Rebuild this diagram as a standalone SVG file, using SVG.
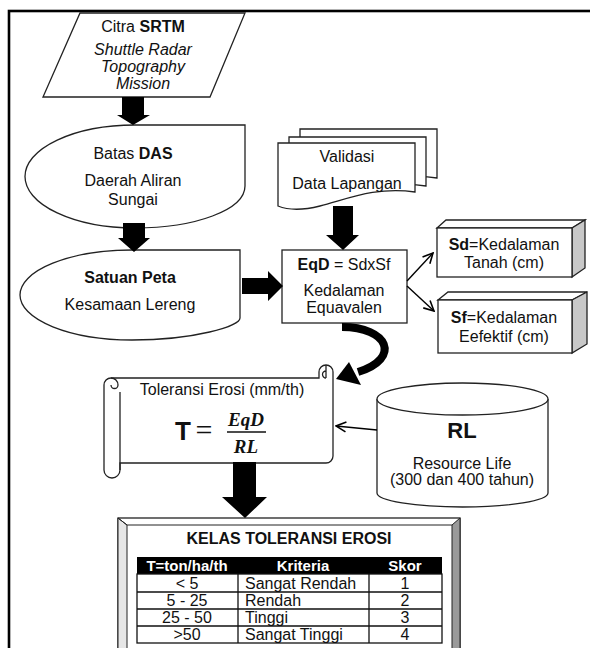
<svg xmlns="http://www.w3.org/2000/svg" width="590" height="648" viewBox="0 0 590 648">
<style>
text{font-family:"Liberation Sans",Arial,sans-serif;font-size:16px;fill:#111;text-anchor:middle}
.b{font-weight:bold}
.i{font-style:italic}
.sh{fill:#fff;stroke:#222;stroke-width:1.3}
.ln{fill:none;stroke:#222;stroke-width:1.3}
.blk{fill:#000}
.th{fill:#fff;font-weight:bold;font-size:15px}
.td{font-size:16px}
.l{text-anchor:start}
.math{font-family:"Liberation Serif","Times New Roman",serif;font-weight:bold;font-style:italic;font-size:19px}
</style>
<defs>
<marker id="open" viewBox="0 0 12 12" refX="11" refY="6" markerWidth="12" markerHeight="12" markerUnits="userSpaceOnUse" orient="auto">
<path d="M1,1 L11,6 L1,11" fill="none" stroke="#000" stroke-width="1.6"/>
</marker>
</defs>
<rect x="9" y="11" width="620" height="700" fill="#fff" stroke="#000" stroke-width="2.6"/>

<g id="citra">
<polygon class="sh" points="80,13 245,13 210,97 43,97"/>
<text x="143" y="32">Citra <tspan class="b">SRTM</tspan></text>
<text class="i" x="143" y="55">Shuttle Radar</text>
<text class="i" x="143" y="72">Topography</text>
<text class="i" x="143" y="89">Mission</text>
</g>

<g id="batas">
<path class="sh" d="M135,125 H245 V186 C245,210 195,228 135,228 A110,51.5 0 0 1 135,125 Z"/>
<text x="133" y="159">Batas <tspan class="b">DAS</tspan></text>
<text x="133" y="186">Daerah Aliran</text>
<text x="133" y="205">Sungai</text>
</g>

<g id="satuan">
<path class="sh" d="M132,250 H240 V318 C240,326 195,340 132,340 A112,45 0 0 1 132,250 Z"/>
<text class="b" x="130" y="283">Satuan Peta</text>
<text x="130" y="310">Kesamaan Lereng</text>
</g>

<g id="validasi">
<path class="sh" d="M300,129 H437 V178 C397,172 367,186 342,192 C322,197 310,196 300,192 Z"/>
<path class="sh" d="M289,137 H426 V186 C386,180 356,194 331,200 C311,205 299,204 289,200 Z"/>
<path class="sh" d="M278,143 H415 V192 C375,186 345,200 320,206 C300,211 288,210 278,206 Z"/>
<text x="347" y="162">Validasi</text>
<text x="347" y="189">Data Lapangan</text>
</g>

<g id="eqd">
<rect class="sh" x="282" y="250" width="125" height="73"/>
<text x="344" y="270"><tspan class="b">EqD</tspan> = SdxSf</text>
<text x="344" y="296">Kedalaman</text>
<text x="344" y="313">Equavalen</text>
</g>

<g id="sd">
<polygon class="sh" points="437,228 446,220 585,220 572,228"/>
<polygon class="sh" points="572,228 585,220 585,268 572,277" style="fill:#c8c8c8"/>
<rect class="sh" x="437" y="228" width="135" height="49"/>
<text x="504" y="250"><tspan class="b">Sd</tspan>=Kedalaman</text>
<text x="504" y="268">Tanah (cm)</text>
</g>

<g id="sf">
<polygon class="sh" points="438,300 448,292 587,292 572,300"/>
<polygon class="sh" points="572,300 587,292 587,344 572,353" style="fill:#c8c8c8"/>
<rect class="sh" x="438" y="300" width="134" height="53"/>
<text x="504" y="323"><tspan class="b">Sf</tspan>=Kedalaman</text>
<text x="504" y="342">Eefektif (cm)</text>
</g>

<g id="toleransi">
<path class="sh" d="M111,378 H319 V372 A7,7 0 0 1 333,372 V456 A7,7 0 0 1 326,463 H120 V470 A8,8 0 0 1 104,470 V385 A7,7 0 0 1 111,378 Z"/>
<path class="ln" d="M120,470 V392 M111,378 A7,7 0 0 1 118,385 A3.5,3.5 0 0 1 111,385 M326,365 V378 M326,371 A3.5,3.5 0 0 0 326,378"/>
<text x="222" y="395">Toleransi Erosi (mm/th)</text>
<text x="183" y="440" style="font-size:26px;font-weight:bold">T</text>
<text x="204" y="440" style="font-family:'Liberation Serif',serif;font-size:30px">=</text>
<text class="math" x="246" y="426">EqD</text>
<line x1="227" y1="432" x2="266" y2="432" stroke="#111" stroke-width="1.3"/>
<text class="math" x="246" y="453">RL</text>
</g>

<g id="rl">
<path class="sh" d="M377,399 V493 A85.5,14 0 0 0 548,493 V399"/>
<ellipse class="sh" cx="462.5" cy="399" rx="85.5" ry="16"/>
<text class="b" x="462" y="438" style="font-size:22px">RL</text>
<text x="462" y="469">Resource Life</text>
<text x="462" y="485">(300 dan 400 tahun)</text>
</g>

<g id="kelas">
<rect x="118" y="518" width="342" height="200" fill="#fff" stroke="#222" stroke-width="1.3"/>
<polygon points="118,518 127,525 127,718 118,718" fill="#e6e6e6" stroke="#222" stroke-width="1"/>
<polygon points="452,525 460,518 460,718 452,718" fill="#9a9a9a" stroke="#222" stroke-width="1"/>
<line x1="127" y1="525" x2="452" y2="525" stroke="#222" stroke-width="1"/>
<line x1="118" y1="518" x2="127" y2="525" stroke="#222" stroke-width="1"/>
<text class="b" x="289" y="544">KELAS TOLERANSI EROSI</text>
<rect x="137" y="557" width="305" height="17" fill="#000"/>
<rect x="137" y="574" width="305" height="69" fill="#fff" stroke="#111" stroke-width="1.3"/>
<path d="M137,592 H442 M137,609 H442 M137,626 H442 M238,574 V643 M369,574 V643" stroke="#111" stroke-width="1.3" fill="none"/>
<text class="th" x="187" y="571">T=ton/ha/th</text>
<text class="th" x="303" y="571">Kriteria</text>
<text class="th" x="405" y="571">Skor</text>
<text class="td" x="187" y="589">&lt; 5</text>
<text class="td l" x="245" y="589">Sangat Rendah</text>
<text class="td" x="405" y="589">1</text>
<text class="td" x="187" y="606">5 - 25</text>
<text class="td l" x="245" y="606">Rendah</text>
<text class="td" x="405" y="606">2</text>
<text class="td" x="187" y="623">25 - 50</text>
<text class="td l" x="245" y="623">Tinggi</text>
<text class="td" x="405" y="623">3</text>
<text class="td" x="187" y="640">&gt;50</text>
<text class="td l" x="245" y="640">Sangat Tinggi</text>
<text class="td" x="405" y="640">4</text>
</g>

<g id="connectors">
<polygon class="blk" points="122,97 144,97 144,115 150,115 133,125 117,115 122,115"/>
<polygon class="blk" points="123,223 145,223 145,238 150,238 134,252 118,238 123,238"/>
<polygon class="blk" points="242,278 268,278 268,271 283,286 268,301 268,294 242,294"/>
<polygon class="blk" points="333,206 353,206 353,235 359,235 343,250 326,235 333,235"/>
<polygon class="blk" points="233,462 256,462 256,497 267,497 245,518 222,497 233,497"/>
<path d="M342,327 C388,327 402,358 358,372" fill="none" stroke="#000" stroke-width="8"/>
<polygon class="blk" points="336,379 349,362 361,385"/>
<line x1="407" y1="281" x2="433" y2="253" stroke="#000" stroke-width="1.4" marker-end="url(#open)"/>
<line x1="407" y1="286" x2="434" y2="311" stroke="#000" stroke-width="1.4" marker-end="url(#open)"/>
<line x1="377" y1="430" x2="336" y2="426" stroke="#000" stroke-width="1.4" marker-end="url(#open)"/>
</g>
</svg>
